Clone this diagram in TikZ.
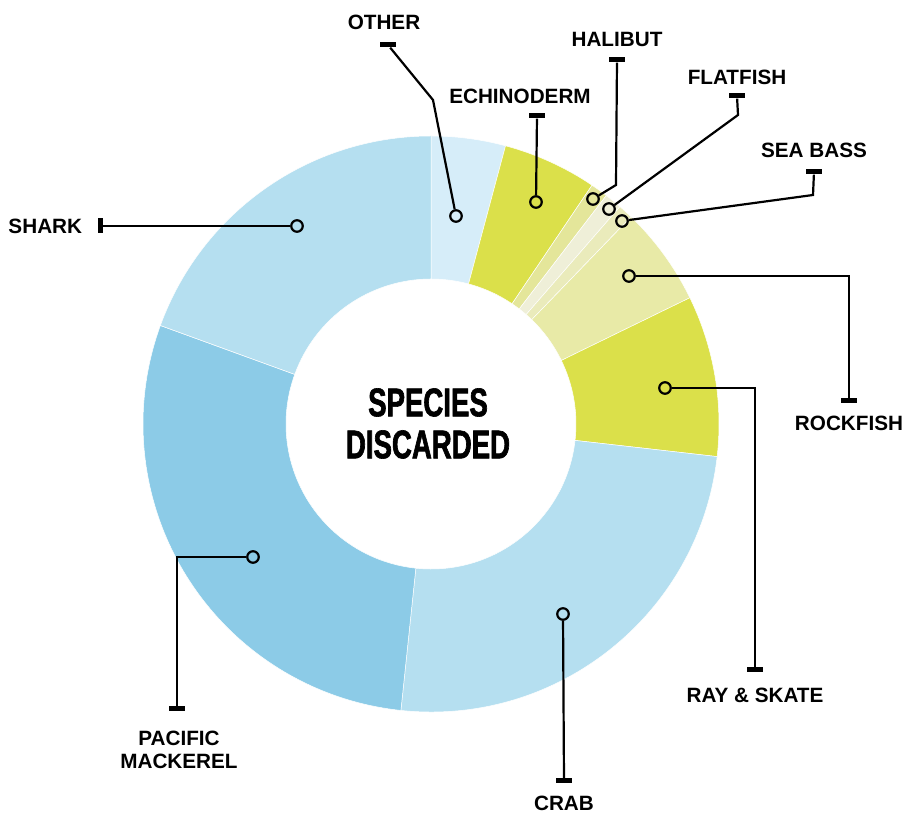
\documentclass[tikz,border=0pt]{standalone}
\usepackage{fontspec}
\setmainfont{Liberation Sans}
\newfontfamily\titlefont[FakeStretch=0.69, FakeBold=1.6]{Liberation Sans}
\usepackage{xcolor}
\usepackage{tikz}
\usetikzlibrary{positioning}

\definecolor{sharkblue}{HTML}{B5DFF0}
\definecolor{otherblue}{HTML}{D6EDF9}
\definecolor{mackblue}{HTML}{8CCBE7}
\definecolor{fishlime}{HTML}{DBE04A}
\definecolor{halibutcol}{HTML}{E4E69A}
\definecolor{flatcol}{HTML}{EFEFD8}
\definecolor{basscol}{HTML}{EAEBBB}
\definecolor{rockcol}{HTML}{E8EAA7}

\begin{document}
\begin{tikzpicture}[x=1pt, y=1pt,
        dot/.style={circle, draw, line width=2.2pt, minimum size=11.5pt, inner sep=0pt},
        endbar/.style={rectangle, fill=black, minimum width=16pt, minimum height=5pt, inner sep=0pt},
        fishlabel/.style={inner sep=0pt, align=center, font=\bfseries\fontsize{20.7}{23.3}\selectfont},
        leader/.style={line width=2.2pt}
    ]
        \useasboundingbox (0,0) rectangle (905,813);
        \coordinate (c) at (431,389);

        % Slices
        \foreach \a/\b/\col in {75/90/otherblue, 56/75/fishlime, 52.5/56/halibutcol,
                49/52.5/flatcol, 46/49/basscol, 26/46/rockcol, -6.5/26/fishlime,
                -96/-6.5/sharkblue, 160/264/mackblue, 90/160/sharkblue}
            \filldraw[fill=\col, draw=white, line width=0.5pt, shift={(c)}]
                (\a:288) arc[start angle=\a, end angle=\b, radius=288]
                -- (\b:145) arc[start angle=\b, end angle=\a, radius=145] -- cycle;

        % Title
        \node[inner sep=0pt, align=center, font=\titlefont\bfseries\fontsize{40}{42}\selectfont]
            (title) at (428,389.5) {SPECIES\\DISCARDED};

        % Dots
        \node[dot] (dot-other) at (456,597) {};
        \node[dot] (dot-echi) at (536,611) {};
        \node[dot] (dot-hal) at (593,614) {};
        \node[dot] (dot-flat) at (609,604) {};
        \node[dot] (dot-bass) at (622,592) {};
        \node[dot] (dot-rock) at (629,537) {};
        \node[dot] (dot-ray) at (665,425) {};
        \node[dot] (dot-crab) at (563,199) {};
        \node[dot] (dot-mack) at (253,256) {};
        \node[dot] (dot-shark) at (297,587) {};

        % Bars
        \node[endbar] (bar-other) at (388,768) {};
        \node[endbar] (bar-echi) at (537,697) {};
        \node[endbar] (bar-hal) at (617,753) {};
        \node[endbar] (bar-flat) at (737,717) {};
        \node[endbar] (bar-bass) at (814,641) {};
        \node[endbar] (bar-rock) at (849,412) {};
        \node[endbar] (bar-ray) at (755,143) {};
        \node[endbar] (bar-crab) at (564,32) {};
        \node[endbar] (bar-mack) at (177,104) {};
        \node[endbar, minimum width=5pt, minimum height=15pt] (bar-shark) at (100,587) {};

        % Bends
        \coordinate (k-other) at (433,713);
        \coordinate (k-hal) at (616,628);
        \coordinate (k-flat) at (738,698);
        \coordinate (k-bass) at (813,618);

        % Leaders
        \draw[leader] (dot-other) -- (k-other) -- (bar-other);
        \draw[leader] (dot-echi) -- (bar-echi);
        \draw[leader] (dot-hal) -- (k-hal) -- (bar-hal);
        \draw[leader] (dot-flat) -- (k-flat) -- (bar-flat);
        \draw[leader] (dot-bass) -- (k-bass) -- (bar-bass);
        \draw[leader] (dot-rock) -| (bar-rock);
        \draw[leader] (dot-ray) -| (bar-ray);
        \draw[leader] (dot-crab) -- (bar-crab);
        \draw[leader] (dot-mack) -| (bar-mack);
        \draw[leader] (dot-shark) -- (bar-shark);

        % Labels
        \node[fishlabel, above=12pt of bar-other, xshift=-4pt] (lab-other) {OTHER};
        \node[fishlabel, above=9pt of bar-echi, xshift=-17pt] (lab-echi) {ECHINODERM};
        \node[fishlabel, above=10pt of bar-hal] (lab-hal) {HALIBUT};
        \node[fishlabel, above=8pt of bar-flat] (lab-flat) {FLATFISH};
        \node[fishlabel, above=11pt of bar-bass] (lab-bass) {SEA BASS};
        \node[fishlabel, below=12pt of bar-rock] (lab-rock) {ROCKFISH};
        \node[fishlabel, below=15pt of bar-ray] (lab-ray) {RAY \& SKATE};
        \node[fishlabel, below=12pt of bar-crab] (lab-crab) {CRAB};
        \node[fishlabel, below=19pt of bar-mack, xshift=2pt] (lab-mack) {PACIFIC\\MACKEREL};
        \node[fishlabel, left=15pt of bar-shark] (lab-shark) {SHARK};

    \end{tikzpicture}
\end{document}
